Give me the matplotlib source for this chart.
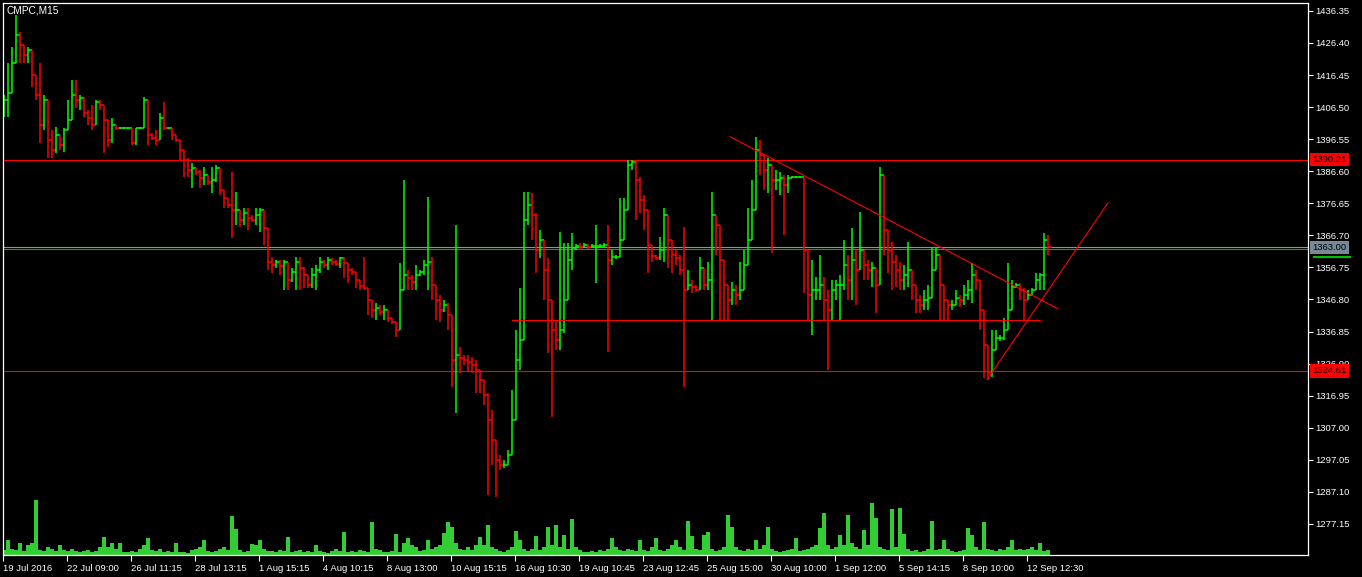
import numpy as np
import matplotlib
matplotlib.use("Agg")
import matplotlib.pyplot as plt
from matplotlib.collections import LineCollection
from matplotlib.transforms import blended_transform_factory

# CMPC M15 bars, one entry per ~1 hour of chart (resampled by eye from the screenshot)
close = [
    1408.7, 1410.9, 1420.2, 1428.9, 1425.8, 1422.7, 1424.2, 1416.5, 1410.3, 1401.0,
    1408.7, 1396.3, 1393.2, 1397.9, 1394.8, 1399.4, 1402.5, 1410.3, 1408.7, 1409.4,
    1404.7, 1403.1, 1401.0, 1408.1, 1407.2, 1402.5, 1396.3, 1401.0, 1400.0, 1400.0,
    1400.0, 1400.0, 1395.4, 1400.0, 1400.0, 1408.7, 1397.9, 1397.0, 1396.3, 1403.1,
    1400.0, 1400.0, 1397.9, 1396.3, 1393.2, 1390.1, 1387.0, 1387.6, 1386.4, 1384.5,
    1385.5, 1383.3, 1383.9, 1387.6, 1380.8, 1378.3, 1376.2, 1374.6, 1374.6, 1371.5,
    1373.7, 1372.1, 1371.5, 1373.0, 1374.6, 1369.0, 1358.5, 1357.5, 1358.5, 1357.2,
    1358.5, 1352.9, 1355.3, 1358.5, 1356.6, 1354.4, 1351.3, 1354.4, 1356.0, 1358.5,
    1357.5, 1359.1, 1358.5, 1357.8, 1359.7, 1358.1, 1356.0, 1355.3, 1352.9, 1351.0,
    1350.4, 1346.7, 1343.6, 1344.2, 1342.9, 1343.6, 1341.1, 1339.8, 1337.4, 1349.8,
    1354.4, 1353.5, 1352.3, 1354.4, 1355.3, 1357.5, 1358.5, 1351.3, 1346.7, 1343.6,
    1345.1, 1342.0, 1328.1, 1329.6, 1328.7, 1328.1, 1327.4, 1326.5, 1324.9, 1321.9,
    1317.2, 1309.4, 1303.2, 1297.0, 1295.5, 1295.5, 1298.6, 1309.4, 1328.1, 1334.3,
    1371.5, 1376.2, 1373.0, 1362.2, 1365.3, 1356.0, 1346.7, 1337.4, 1334.3, 1337.4,
    1346.7, 1359.1, 1362.8, 1363.4, 1363.1, 1363.7, 1363.1, 1363.4, 1363.4, 1363.4,
    1363.7, 1359.1, 1360.0, 1360.0, 1365.3, 1374.6, 1388.6, 1389.5, 1383.9, 1377.7,
    1374.6, 1363.7, 1360.3, 1359.7, 1362.2, 1373.0, 1365.3, 1360.6, 1359.7, 1356.0,
    1349.8, 1351.3, 1350.7, 1349.8, 1356.6, 1351.3, 1352.9, 1373.0, 1370.0, 1359.1,
    1351.3, 1346.7, 1349.8, 1348.2, 1349.8, 1357.5, 1365.3, 1374.6, 1393.2, 1391.7,
    1387.0, 1388.6, 1383.9, 1383.9, 1384.5, 1382.4, 1384.5, 1384.8, 1384.8, 1384.8,
    1362.2, 1348.2, 1349.8, 1349.8, 1351.3, 1346.7, 1343.6, 1349.8, 1351.3, 1351.3,
    1357.5, 1352.9, 1359.1, 1356.0, 1362.2, 1357.5, 1356.0, 1356.6, 1351.3, 1385.5,
    1368.4, 1362.2, 1358.5, 1356.0, 1352.9, 1354.4, 1356.0, 1351.3, 1346.7, 1345.1,
    1346.7, 1347.3, 1356.0, 1360.6, 1351.3, 1346.7, 1345.1, 1345.1, 1347.3, 1346.7,
    1348.2, 1349.8, 1354.4, 1352.9, 1343.6, 1332.7, 1324.3, 1331.2, 1334.9, 1334.9,
    1337.4, 1343.6, 1350.7, 1351.3, 1349.8, 1346.7, 1348.2, 1349.8, 1352.9, 1354.4,
    1365.3, 1363.0,
]
high = [
    1410.3, 1420.2, 1425.2, 1435.1, 1429.8, 1425.2, 1425.2, 1424.2, 1416.5, 1420.2,
    1410.3, 1408.7, 1399.4, 1400.4, 1397.9, 1400.0, 1408.7, 1414.9, 1414.9, 1410.3,
    1409.7, 1405.6, 1407.2, 1408.7, 1408.7, 1407.2, 1402.5, 1403.1, 1401.0, 1400.4,
    1400.4, 1400.4, 1400.0, 1400.0, 1400.4, 1409.7, 1408.7, 1398.5, 1399.4, 1404.7,
    1408.1, 1400.4, 1400.0, 1397.9, 1396.3, 1393.2, 1390.7, 1389.2, 1387.6, 1387.0,
    1388.0, 1385.5, 1388.0, 1388.6, 1387.6, 1380.8, 1378.3, 1386.4, 1380.2, 1374.6,
    1375.2, 1375.2, 1373.0, 1375.2, 1375.2, 1374.6, 1369.0, 1360.0, 1359.1, 1359.1,
    1359.1, 1358.5, 1356.6, 1360.0, 1360.0, 1356.9, 1354.4, 1356.6, 1357.5, 1360.0,
    1359.1, 1360.0, 1359.7, 1359.1, 1360.0, 1360.0, 1358.1, 1356.6, 1355.3, 1352.9,
    1360.0, 1350.4, 1346.7, 1345.7, 1345.1, 1345.1, 1343.6, 1341.1, 1339.8, 1358.1,
    1383.9, 1356.0, 1354.4, 1357.5, 1356.0, 1359.1, 1378.6, 1360.0, 1351.3, 1348.2,
    1346.7, 1345.7, 1342.0, 1370.0, 1332.1, 1329.6, 1329.6, 1329.0, 1328.1, 1324.9,
    1321.9, 1317.8, 1312.5, 1303.2, 1298.6, 1297.0, 1300.1, 1318.7, 1337.4, 1350.4,
    1380.2, 1380.2, 1379.9, 1373.7, 1368.4, 1365.3, 1359.7, 1346.7, 1340.5, 1367.8,
    1364.4, 1364.4, 1367.5, 1364.0, 1364.4, 1364.4, 1364.0, 1364.0, 1370.0, 1364.0,
    1364.4, 1370.0, 1362.2, 1360.6, 1378.3, 1378.3, 1390.1, 1390.1, 1390.1, 1384.8,
    1379.3, 1374.6, 1363.7, 1360.6, 1366.2, 1375.2, 1373.0, 1365.3, 1362.2, 1360.6,
    1369.3, 1356.0, 1352.9, 1351.3, 1360.0, 1356.6, 1358.5, 1380.2, 1373.0, 1370.0,
    1359.1, 1351.3, 1352.3, 1351.3, 1358.5, 1362.2, 1375.2, 1383.9, 1397.3, 1396.3,
    1391.7, 1390.7, 1388.6, 1387.0, 1386.4, 1385.5, 1385.5, 1385.2, 1385.2, 1385.2,
    1384.8, 1362.2, 1359.1, 1353.8, 1360.6, 1353.8, 1349.8, 1352.9, 1352.9, 1354.4,
    1365.3, 1360.6, 1369.0, 1362.2, 1374.0, 1362.2, 1359.1, 1358.5, 1356.6, 1388.0,
    1385.5, 1368.4, 1364.7, 1360.6, 1358.5, 1357.5, 1364.7, 1356.0, 1351.3, 1348.2,
    1349.8, 1351.3, 1363.1, 1363.1, 1360.6, 1351.3, 1346.7, 1346.7, 1349.8, 1348.2,
    1351.3, 1352.9, 1358.1, 1356.0, 1352.9, 1343.6, 1332.7, 1337.4, 1337.4, 1335.8,
    1341.1, 1358.1, 1352.9, 1352.0, 1352.0, 1350.4, 1349.8, 1350.4, 1355.0, 1355.0,
    1367.5, 1366.8,
]
low = [
    1403.5, 1403.5, 1410.9, 1420.2, 1420.2, 1420.2, 1420.2, 1412.8, 1408.7, 1395.4,
    1399.4, 1390.7, 1390.7, 1392.3, 1393.2, 1392.6, 1399.4, 1402.5, 1406.3, 1405.6,
    1403.5, 1401.0, 1399.4, 1401.0, 1405.6, 1392.3, 1394.1, 1395.4, 1399.4, 1399.7,
    1399.7, 1399.7, 1394.8, 1394.8, 1399.7, 1400.0, 1394.8, 1396.3, 1394.8, 1396.3,
    1399.4, 1399.7, 1396.3, 1395.7, 1390.1, 1384.8, 1384.8, 1381.4, 1385.5, 1381.4,
    1382.4, 1382.4, 1379.9, 1383.3, 1379.3, 1375.2, 1375.2, 1365.9, 1370.0, 1369.3,
    1370.0, 1368.4, 1370.9, 1370.0, 1367.8, 1363.7, 1356.0, 1355.0, 1356.6, 1354.4,
    1349.8, 1349.8, 1352.3, 1349.8, 1349.8, 1350.4, 1350.4, 1350.4, 1349.8, 1355.0,
    1356.6, 1356.0, 1357.5, 1357.2, 1356.6, 1353.5, 1352.0, 1354.4, 1350.4, 1349.8,
    1349.8, 1342.0, 1341.1, 1340.5, 1342.0, 1340.5, 1339.8, 1339.2, 1335.2, 1337.4,
    1349.8, 1349.8, 1349.8, 1349.8, 1354.1, 1354.4, 1349.8, 1346.7, 1340.5, 1339.8,
    1342.9, 1337.4, 1319.7, 1311.6, 1324.0, 1326.5, 1324.3, 1324.0, 1317.8, 1317.8,
    1314.1, 1286.2, 1295.5, 1285.5, 1293.9, 1294.5, 1295.5, 1298.6, 1309.4, 1324.9,
    1334.3, 1370.0, 1365.3, 1355.0, 1359.7, 1346.7, 1330.2, 1310.4, 1331.2, 1331.2,
    1336.4, 1346.7, 1356.0, 1362.2, 1362.2, 1362.8, 1362.5, 1362.8, 1352.0, 1362.8,
    1363.1, 1330.5, 1357.5, 1359.4, 1360.0, 1365.3, 1374.6, 1387.0, 1371.5, 1373.7,
    1368.4, 1355.0, 1358.5, 1359.1, 1359.1, 1358.5, 1356.6, 1355.0, 1357.5, 1354.4,
    1319.7, 1349.8, 1348.8, 1349.2, 1349.8, 1349.8, 1349.8, 1340.5, 1360.6, 1340.5,
    1340.5, 1340.5, 1345.1, 1345.1, 1346.7, 1349.8, 1357.5, 1365.3, 1374.6, 1385.5,
    1380.8, 1379.9, 1361.2, 1380.8, 1379.3, 1366.8, 1379.9, 1384.5, 1384.5, 1384.5,
    1348.8, 1340.5, 1335.8, 1346.7, 1346.7, 1340.5, 1324.9, 1340.5, 1346.7, 1340.5,
    1349.8, 1346.7, 1346.7, 1345.1, 1356.0, 1352.9, 1352.9, 1350.7, 1342.6, 1351.3,
    1360.6, 1355.0, 1349.8, 1350.7, 1349.8, 1349.8, 1350.7, 1346.7, 1342.6, 1342.6,
    1343.6, 1343.6, 1347.3, 1356.0, 1340.5, 1340.5, 1340.5, 1343.6, 1345.1, 1344.5,
    1345.1, 1346.7, 1345.7, 1349.8, 1337.4, 1322.5, 1321.9, 1322.8, 1331.2, 1334.0,
    1334.3, 1337.4, 1343.6, 1350.4, 1346.7, 1340.5, 1346.7, 1348.2, 1349.8, 1349.8,
    1349.8, 1360.6,
]
volume = [
    5, 15, 6, 5, 12, 4, 10, 12, 55, 5,
    4, 8, 6, 4, 10, 5, 4, 6, 4, 3,
    4, 5, 3, 4, 8, 18, 8, 12, 6, 12,
    3, 3, 4, 3, 6, 10, 17, 5, 4, 6,
    3, 4, 3, 12, 3, 3, 2, 5, 6, 8,
    15, 4, 3, 4, 6, 8, 5, 39, 26, 5,
    3, 4, 11, 10, 15, 6, 4, 4, 3, 5,
    4, 18, 3, 4, 5, 3, 4, 3, 10, 4,
    3, 2, 4, 6, 4, 23, 3, 4, 3, 5,
    4, 3, 33, 6, 5, 3, 3, 4, 21, 3,
    12, 17, 10, 8, 4, 5, 15, 6, 8, 10,
    22, 33, 28, 12, 6, 5, 8, 5, 10, 18,
    10, 30, 8, 6, 4, 3, 5, 8, 24, 15,
    6, 4, 6, 19, 5, 8, 28, 10, 30, 8,
    20, 6, 36, 8, 5, 3, 3, 4, 3, 5,
    4, 6, 17, 8, 5, 4, 6, 5, 4, 15,
    5, 4, 8, 17, 5, 4, 6, 10, 15, 8,
    5, 34, 19, 6, 5, 20, 23, 6, 4, 5,
    8, 40, 28, 8, 5, 4, 6, 5, 15, 6,
    10, 28, 6, 4, 3, 4, 5, 6, 17, 4,
    5, 6, 8, 10, 27, 42, 10, 6, 8, 20,
    10, 40, 12, 8, 6, 25, 10, 52, 37, 8,
    6, 5, 46, 8, 47, 21, 6, 4, 5, 3,
    4, 6, 34, 5, 6, 15, 6, 4, 3, 4,
    5, 27, 20, 8, 5, 33, 6, 5, 4, 6,
    5, 8, 15, 5, 6, 5, 6, 8, 5, 12,
    4, 5,
]

date_labels = ['19 Jul 2016', '22 Jul 09:00', '26 Jul 11:15', '28 Jul 13:15',
               '1 Aug 15:15', '4 Aug 10:15', '8 Aug 13:00', '10 Aug 15:15',
               '16 Aug 10:30', '19 Aug 10:45', '23 Aug 12:45', '25 Aug 15:00',
               '30 Aug 10:00', '1 Sep 12:00', '5 Sep 14:15', '8 Sep 10:00',
               '12 Sep 12:30']
price_ticks = [1436.35, 1426.40, 1416.45, 1406.50, 1396.55, 1386.60, 1376.65,
               1366.70, 1356.75, 1346.80, 1336.85, 1326.90, 1316.95, 1307.00,
               1297.05, 1287.10, 1277.15]

# chart objects (levels and trendlines), x in bar index
resistance = 1390.21
support = 1324.61
bid = 1363.00
green_level = 1362.4
mid_line = (127, 259, 1340.4)
down_trend = ([181.5, 263.5], [1397.3, 1343.9])
up_trend = ([245.75, 276.0], [1321.9, 1376.8])

GREEN = '#00ff00'
RED = '#ff0000'
plt.rcParams['font.family'] = ['Liberation Sans', 'DejaVu Sans']
FS = 6.8

W, H = 1362, 577
fig = plt.figure(figsize=(W / 100, H / 100), dpi=100, facecolor='black')
ax = fig.add_axes([3 / W, 22 / H, 1305 / W, 552 / H])
ax.set_facecolor('black')

n = len(close)
x = np.arange(n)
opn = [low[0]] + close[:-1]

vol_ax = ax.twinx()
vol_ax.bar(x, volume, width=0.85, color='#32cd32', linewidth=0)
vol_ax.set_ylim(0, max(volume) * 10.04)
vol_ax.set_yticks([])
vol_ax.set_zorder(ax.get_zorder() - 1)
ax.patch.set_visible(False)
vol_ax.patch.set_facecolor('black')
for s in vol_ax.spines.values():
    s.set_visible(False)

segs, cols = [], []
for i in range(n):
    c = GREEN if close[i] >= opn[i] else RED
    lo = min(low[i], opn[i], close[i])
    hi = max(high[i], opn[i], close[i])
    segs.append([(i, lo), (i, hi)])
    cols.append(c)
    segs.append([(i, close[i]), (i + 1, close[i])])
    cols.append(c)
ax.add_collection(LineCollection(segs, colors=cols, linewidths=1.1, zorder=2))

# levels
ax.axhline(resistance, color=RED, lw=0.8, zorder=1)
ax.axhline(support, color=RED, lw=0.8, zorder=1)
ax.axhline(bid, color='#909090', lw=0.8, zorder=1)
ax.axhline(green_level, color='#00b000', lw=0.8, zorder=1)
ax.plot([mid_line[0], mid_line[1]], [mid_line[2], mid_line[2]], color=RED, lw=0.8, zorder=3)
ax.plot(*down_trend, color=RED, lw=0.8, zorder=3)
ax.plot(*up_trend, color=RED, lw=0.8, zorder=3)

ax.set_xlim(-0.25, 326)
ax.set_ylim(1267.5, 1438.8)

# axes styling
for s in ax.spines.values():
    s.set_color('white')
    s.set_linewidth(0.9)
ax.yaxis.tick_right()
ax.set_yticks(price_ticks)
ax.set_yticklabels(['%.2f' % p for p in price_ticks])
ax.set_xticks([-0.3 + 16 * k for k in range(len(date_labels))])
ax.set_xticklabels(date_labels, ha='left')
ax.tick_params(axis='y', colors='white', length=3.5, width=0.8, pad=2, labelsize=FS)
ax.tick_params(axis='x', colors='white', length=4, width=0.8, pad=2.5, labelsize=FS)

tr = blended_transform_factory(ax.transAxes, ax.transData)
xb = 1.0035
for price, fc in [(resistance, RED), (support, RED), (bid, '#778899')]:
    ax.text(xb, price, '%.2f' % price, transform=tr, ha='left', va='center',
            fontsize=FS, color='black', clip_on=False, zorder=6,
            bbox=dict(boxstyle='square,pad=0.22', fc=fc, ec='none'))
# green level label is hidden behind the bid label, only its lower edge shows
ax.plot([xb, xb + 0.0295], [1359.9, 1359.9], transform=tr, color='#00c000',
        lw=1.5, clip_on=False, solid_capstyle='butt', zorder=7)

ax.text(0.003, 0.996, 'CMPC,M15', transform=ax.transAxes, ha='left', va='top',
        color='white', fontsize=7.3)

fig.savefig('out.png', dpi=100, facecolor='black')
